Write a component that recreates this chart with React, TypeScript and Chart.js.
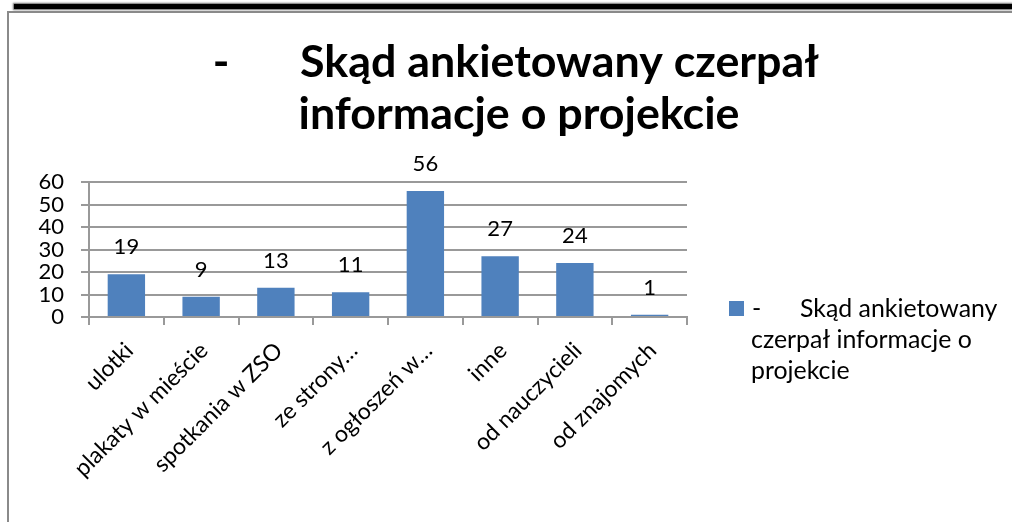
import React, { useEffect, useRef } from "react";
import { Chart, registerables } from "chart.js";

Chart.register(...registerables);

// ---- data ----
const categories = [
  "ulotki",
  "plakaty w mieście",
  "spotkania w ZSO",
  "ze strony…",
  "z ogłoszeń w…",
  "inne",
  "od nauczycieli",
  "od znajomych",
];
const values = [19, 9, 13, 11, 56, 27, 24, 1];
const seriesLabel = "-        Skąd ankietowany czerpał informacje o projekcie";
const titleDash = "-";
const titleLine1 = "Skąd ankietowany czerpał";
const titleLine2 = "informacje o projekcie";
const legendDash = "-";
const legendLines = ["Skąd ankietowany", "czerpał informacje o", "projekcie"];
const yMin = 0;
const yMax = 60;
const yStep = 10;

// ---- styles ----
const FONT = "Lato, 'Open Sans', sans-serif";
const BAR = "#4F81BD";
const GRID = "#999999";
const W = 1003;
const H = 509;

function fitSize(ctx: CanvasRenderingContext2D, text: string, weight: string, target: number) {
  ctx.font = `${weight} 100px ${FONT}`;
  const w = ctx.measureText(text).width;
  return (100 * target) / w;
}

const overlay = {
  id: "overlay",
  afterDraw(chart: any) {
    const ctx: CanvasRenderingContext2D = chart.ctx;
    ctx.save();
    ctx.fillStyle = "#000";
    ctx.textBaseline = "alphabetic";

    // title
    const s1 = fitSize(ctx, titleLine1, "bold", 518);
    const s2 = fitSize(ctx, titleLine2, "bold", 442);
    const ts = (s1 + s2) / 2;
    ctx.font = `bold ${ts}px ${FONT}`;
    ctx.textAlign = "center";
    ctx.fillText(titleDash, 212, 64);
    ctx.textAlign = "left";
    ctx.fillText(titleLine1, 291, 64);
    ctx.textAlign = "center";
    ctx.fillText(titleLine2, 510, 116);

    // data labels
    const meta = chart.getDatasetMeta(0);
    ctx.font = `22px ${FONT}`;
    ctx.textAlign = "center";
    meta.data.forEach((bar: any, i: number) => {
      ctx.fillText(String(values[i]), bar.x, bar.y - 20);
    });

    // legend
    const ls = fitSize(ctx, legendLines[1], "normal", 221);
    ctx.fillStyle = BAR;
    ctx.fillRect(720, 288, 15, 15);
    ctx.fillStyle = "#000";
    ctx.font = `${ls}px ${FONT}`;
    ctx.textAlign = "left";
    ctx.fillText(legendDash, 743, 304);
    ctx.fillText(legendLines[0], 791, 304);
    ctx.fillText(legendLines[1], 742, 335);
    ctx.fillText(legendLines[2], 742, 366);
    ctx.restore();
  },
};

export default function App() {
  const ref = useRef<HTMLCanvasElement | null>(null);

  useEffect(() => {
    if (!ref.current) return;
    const chart = new Chart(ref.current, {
      type: "bar",
      data: {
        labels: categories,
        datasets: [
          {
            label: seriesLabel,
            data: values,
            backgroundColor: BAR,
            borderWidth: 0,
            barPercentage: 0.5,
            categoryPercentage: 1,
          },
        ],
      },
      options: {
        responsive: false,
        animation: false,
        devicePixelRatio: 1,
        layout: { padding: { left: 0, top: 169, right: 325, bottom: 0 } },
        plugins: {
          legend: { display: false },
          title: { display: false },
          tooltip: { enabled: false },
        },
        scales: {
          x: {
            offset: true,
            grid: {
              display: true,
              drawOnChartArea: false,
              drawTicks: true,
              tickLength: 8,
              offset: true,
              color: GRID,
              lineWidth: 2,
            },
            border: { display: true, color: GRID, width: 2 },
            ticks: {
              autoSkip: false,
              minRotation: 45,
              maxRotation: 45,
              color: "#000",
              font: { family: FONT, size: 23 },
              padding: 12,
              labelOffset: 3,
            },
            afterFit: (scale: any) => {
              scale.height = 205;
            },
          },
          y: {
            min: yMin,
            max: yMax,
            ticks: {
              stepSize: yStep,
              autoSkip: false,
              color: "#000",
              font: { family: FONT, size: 22 },
              padding: 17,
            },
            grid: {
              color: GRID,
              lineWidth: 2,
              tickLength: 8,
              drawTicks: true,
            },
            border: { display: true, color: GRID, width: 2 },
            afterFit: (scale: any) => {
              scale.width = 80;
            },
          },
        },
      },
      plugins: [overlay],
    });
    return () => chart.destroy();
  }, []);

  return (
    <div style={{ position: "fixed", left: 0, top: 0, width: 1012, height: 522, background: "#fff", overflow: "hidden" }}>
      <div
        style={{
          position: "absolute",
          left: 14,
          top: 4,
          width: 998,
          height: 5,
          background: "#000",
          boxShadow: "0 0 2px 1px rgba(0,0,0,0.6)",
        }}
      />
      <div
        style={{
          position: "absolute",
          left: 7,
          top: 11,
          width: 1005,
          height: 511,
          borderLeft: "2px solid #8a8a8a",
          borderTop: "2px solid #8a8a8a",
          boxSizing: "border-box",
        }}
      />
      <canvas
        ref={ref}
        width={W}
        height={H}
        style={{ position: "absolute", left: 9, top: 13, width: W, height: H }}
      />
    </div>
  );
}
